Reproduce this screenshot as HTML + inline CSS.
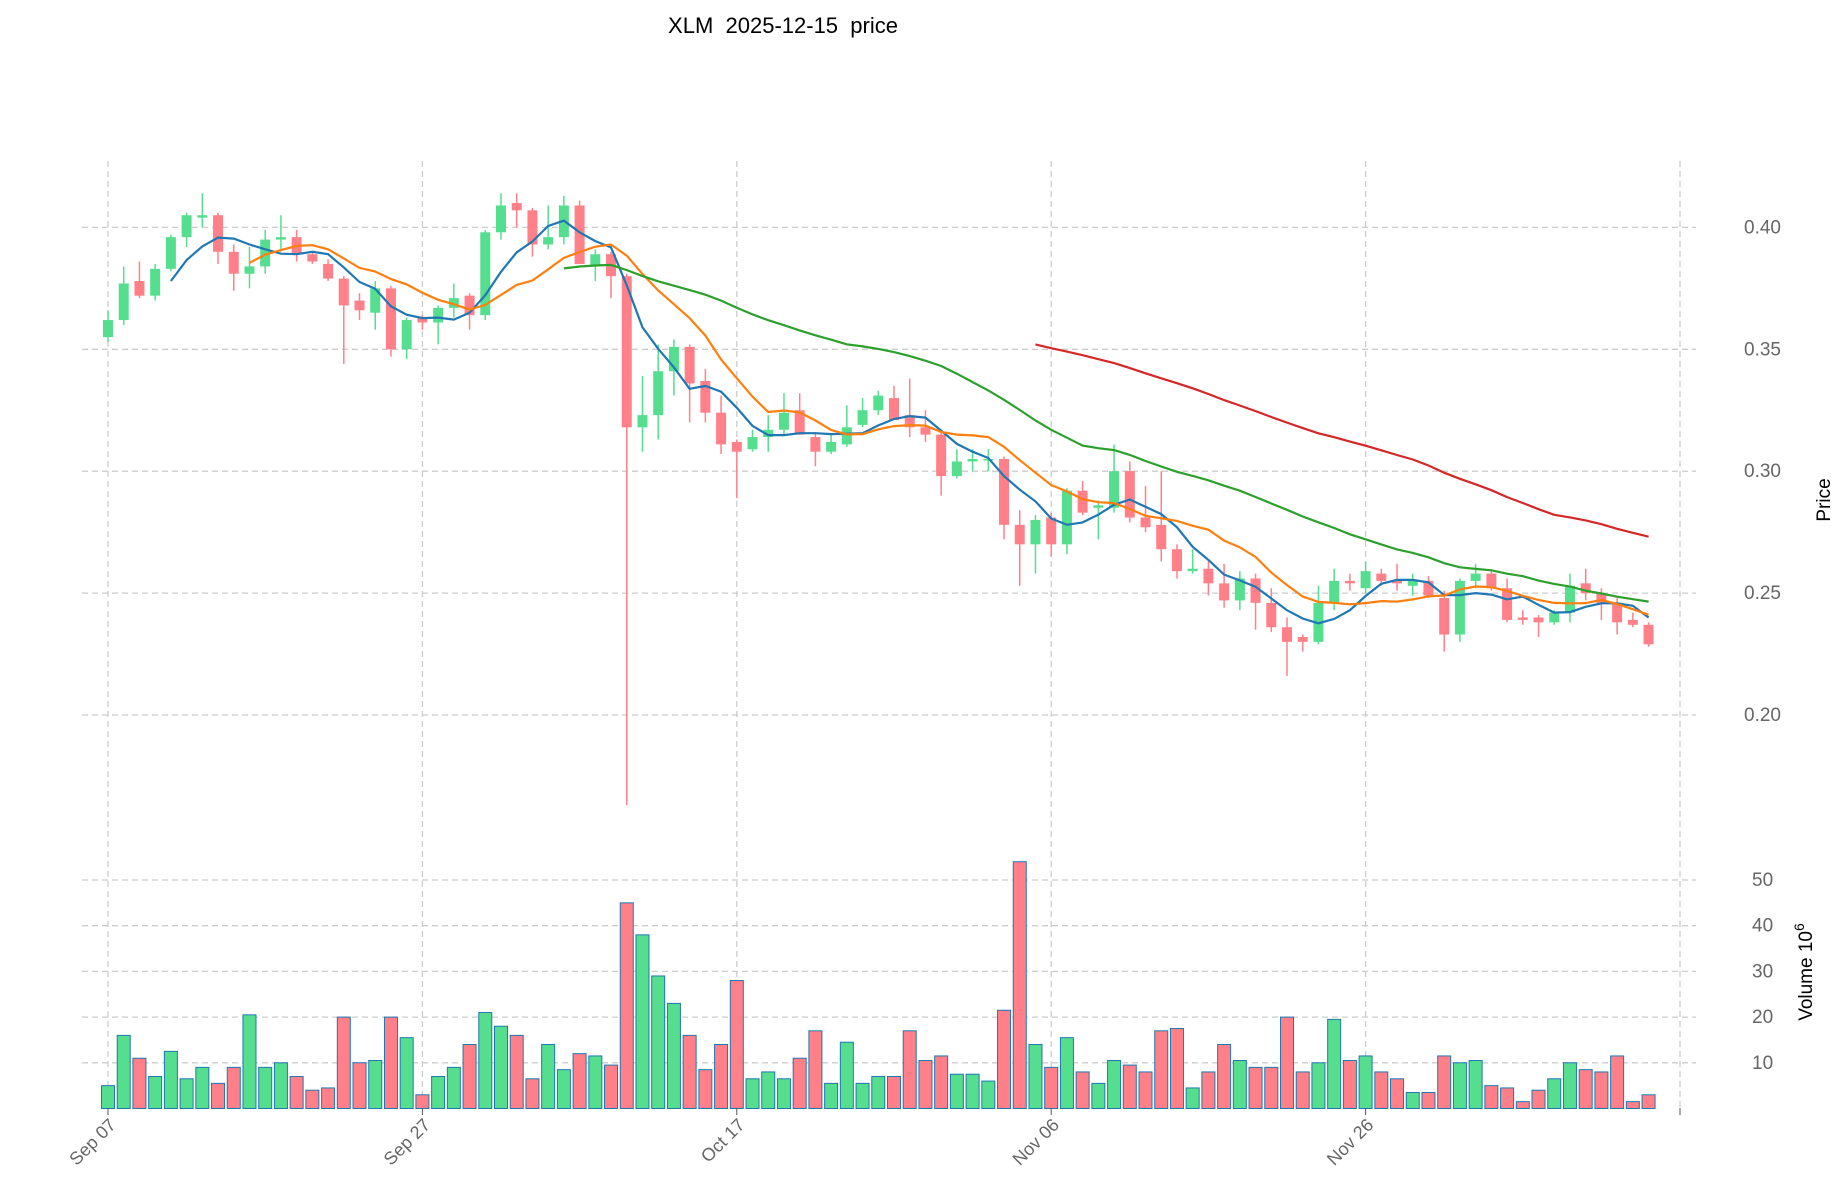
<!DOCTYPE html>
<html><head><meta charset="utf-8"><style>
body{margin:0;background:#fff;}
svg{display:block;font-family:"Liberation Sans","DejaVu Sans",sans-serif;}
</style></head><body>
<svg id="chart" width="1847" height="1202" viewBox="0 0 1847 1202" xmlns="http://www.w3.org/2000/svg">
<text x="783" y="33" font-size="22" text-anchor="middle" fill="#000">XLM&#160;&#160;2025-12-15&#160;&#160;price</text>
<g id="grid"></g>
<g id="vol"></g>
<g id="candles"></g>
<g id="mas"></g>
<g id="axes"></g>
<text transform="translate(1830,500) rotate(-90)" font-size="19" text-anchor="middle">Price</text>
<text transform="translate(1812,972) rotate(-90)" font-size="19" text-anchor="middle">Volume  10<tspan dy="-8" font-size="14">6</tspan></text>
</svg>
<script>
const dates=["Sep 07","Sep 27","Oct 17","Nov 06","Nov 26"];
const dateIdx=[0,20,40,60,80];
const priceTicks=[0.20,0.25,0.30,0.35,0.40];
const volTicks=[10,20,30,40,50];
const opens=[0.355,0.362,0.378,0.372,0.383,0.396,0.404,0.405,0.390,0.381,0.384,0.395,0.396,0.389,0.385,0.379,0.370,0.365,0.375,0.350,0.363,0.361,0.367,0.372,0.364,0.398,0.410,0.407,0.393,0.396,0.409,0.384,0.389,0.380,0.318,0.323,0.341,0.351,0.337,0.324,0.312,0.309,0.314,0.317,0.325,0.314,0.308,0.311,0.319,0.325,0.330,0.323,0.318,0.315,0.298,0.304,0.305,0.305,0.278,0.270,0.281,0.270,0.292,0.285,0.285,0.300,0.281,0.278,0.268,0.259,0.260,0.254,0.247,0.256,0.246,0.236,0.232,0.230,0.246,0.255,0.252,0.258,0.255,0.253,0.255,0.248,0.233,0.255,0.258,0.252,0.240,0.240,0.238,0.242,0.254,0.250,0.246,0.239,0.237];
const highs=[0.366,0.384,0.386,0.385,0.397,0.406,0.414,0.406,0.393,0.392,0.399,0.405,0.399,0.390,0.387,0.380,0.373,0.378,0.376,0.363,0.364,0.368,0.377,0.373,0.399,0.414,0.414,0.408,0.409,0.413,0.411,0.391,0.390,0.381,0.339,0.352,0.354,0.352,0.342,0.331,0.313,0.317,0.323,0.332,0.332,0.316,0.315,0.327,0.330,0.333,0.335,0.338,0.325,0.316,0.309,0.309,0.309,0.306,0.284,0.282,0.283,0.293,0.296,0.288,0.311,0.304,0.294,0.300,0.270,0.268,0.263,0.262,0.259,0.258,0.252,0.240,0.233,0.253,0.260,0.258,0.263,0.260,0.262,0.258,0.257,0.251,0.256,0.262,0.259,0.256,0.243,0.241,0.243,0.258,0.260,0.252,0.248,0.242,0.238];
const lows=[0.353,0.360,0.371,0.370,0.382,0.392,0.400,0.385,0.374,0.375,0.381,0.390,0.386,0.385,0.378,0.344,0.362,0.358,0.347,0.346,0.358,0.352,0.363,0.358,0.362,0.395,0.400,0.388,0.391,0.393,0.385,0.378,0.371,0.163,0.308,0.313,0.331,0.320,0.320,0.307,0.289,0.308,0.308,0.315,0.315,0.302,0.307,0.310,0.318,0.323,0.321,0.314,0.312,0.290,0.297,0.300,0.300,0.272,0.253,0.258,0.265,0.266,0.282,0.272,0.283,0.279,0.275,0.263,0.256,0.258,0.249,0.244,0.243,0.235,0.234,0.216,0.226,0.229,0.243,0.251,0.250,0.253,0.251,0.249,0.248,0.226,0.230,0.252,0.251,0.238,0.237,0.232,0.237,0.238,0.247,0.239,0.233,0.236,0.228];
const closes=[0.362,0.377,0.372,0.383,0.396,0.405,0.405,0.390,0.381,0.384,0.395,0.396,0.389,0.386,0.379,0.368,0.366,0.375,0.350,0.362,0.361,0.367,0.371,0.364,0.398,0.409,0.407,0.393,0.396,0.409,0.385,0.389,0.380,0.318,0.323,0.341,0.351,0.336,0.324,0.311,0.308,0.314,0.317,0.324,0.315,0.308,0.312,0.318,0.325,0.331,0.321,0.318,0.315,0.298,0.304,0.305,0.305,0.278,0.270,0.280,0.270,0.292,0.283,0.286,0.300,0.281,0.277,0.268,0.259,0.260,0.254,0.247,0.256,0.246,0.236,0.230,0.230,0.246,0.255,0.254,0.259,0.255,0.254,0.255,0.249,0.233,0.255,0.258,0.252,0.239,0.239,0.238,0.242,0.253,0.250,0.246,0.238,0.237,0.229];
const volumes=[5,16,11,7,12.5,6.5,9,5.5,9,20.5,9,10,7,4,4.5,20,10,10.5,20,15.5,3,7,9,14,21,18,16,6.5,14,8.5,12,11.5,9.5,45,38,29,23,16,8.5,14,28,6.5,8,6.5,11,17,5.5,14.5,5.5,7,7,17,10.5,11.5,7.5,7.5,6,21.5,54,14,9,15.5,8,5.5,10.5,9.5,8,17,17.5,4.5,8,14,10.5,9,9,20,8,10,19.5,10.5,11.5,8,6.5,3.5,3.5,11.5,10,10.5,5,4.5,1.5,4,6.5,10,8.5,8,11.5,1.5,3];
const maPeriods=[5,10,30,60];
const maColors=["#1f77b4","#ff7f0e","#2ca02c","#d62728"];

const NS="http://www.w3.org/2000/svg";
const xOf=i=>108+i*15.72;
const yP=p=>227.4+(0.40-p)*2438;
const yV=v=>1108.5-v*4.57;
function mk(tag,attrs,parent){const e=document.createElementNS(NS,tag);for(const k in attrs)e.setAttribute(k,attrs[k]);parent.appendChild(e);return e;}
const grid=document.getElementById('grid'),axes=document.getElementById('axes');
const vx=dateIdx.concat([100]);
vx.forEach((d,k)=>{const l=mk('line',{x1:xOf(d),x2:xOf(d),y1:161,y2:1108,stroke:'#cccccc','stroke-width':1.3,'stroke-dasharray':'6,4'},grid);


const t=mk('line',{x1:xOf(d),x2:xOf(d),y1:1108,y2:1115,stroke:'#555','stroke-width':1},axes);

});
dates.forEach((s,k)=>{const x=xOf(dateIdx[k])+9;const t=mk('text',{x:x,y:1126,'font-size':18,fill:'#666','text-anchor':'end',transform:`rotate(-45 ${x} 1126)`},axes);t.textContent=s;

});
priceTicks.forEach(p=>{const y=yP(p);const l=mk('line',{x1:82,x2:1696,y1:y,y2:y,stroke:'#cccccc','stroke-width':1.3,'stroke-dasharray':'6,4'},grid);


const t=mk('text',{x:1744,y:y+6,'font-size':19,fill:'#666'},axes);t.textContent=p.toFixed(2);

});
volTicks.forEach(v=>{const y=yV(v);const l=mk('line',{x1:82,x2:1696,y1:y,y2:y,stroke:'#cccccc','stroke-width':1.3,'stroke-dasharray':'6,4'},grid);


const t=mk('text',{x:1752,y:y+6,'font-size':19,fill:'#666'},axes);t.textContent=v;

});
const G='#55de8e',R='#ff8088';
const vol=document.getElementById('vol'),cg=document.getElementById('candles');
closes.forEach((c,i)=>{const o=opens[i],up=c>=o,col=up?G:R,x=xOf(i);
const b=mk('rect',{x:x-6.5,y:yV(volumes[i]),width:13,height:volumes[i]*4.57,fill:col,stroke:'#1f77b4','stroke-width':1},vol);


const w=mk('line',{x1:x,x2:x,y1:yP(highs[i]),y2:yP(lows[i]),stroke:col,'stroke-width':1.5},cg);


const top=yP(Math.max(o,c)),h=Math.max(1.5,Math.abs(yP(o)-yP(c)));
const r=mk('rect',{x:x-5,y:top,width:10,height:h,fill:col},cg);

});
const mg=document.getElementById('mas');
maPeriods.forEach((n,k)=>{const pts=[];for(let i=n-1;i<closes.length;i++){let s=0;for(let j=i-n+1;j<=i;j++)s+=closes[j];pts.push(xOf(i).toFixed(1)+','+yP(s/n).toFixed(1));}
const pl=mk('polyline',{points:pts.join(' '),fill:'none',stroke:maColors[k],'stroke-width':2.2},mg);

});
</script>
</body></html>
